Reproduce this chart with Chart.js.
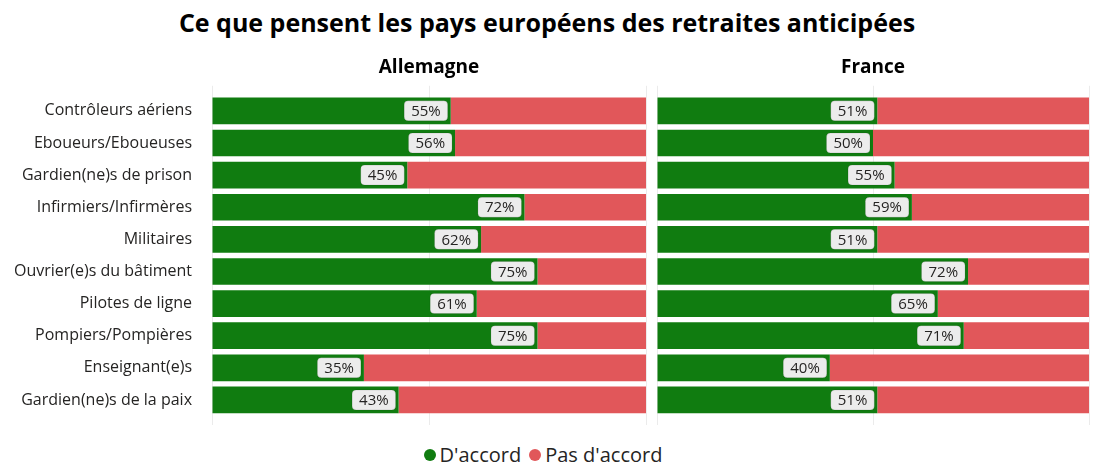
<!DOCTYPE html>
<html lang="fr">
<head>
  <meta charset="UTF-8">
  <title>Ce que pensent les pays européens des retraites anticipées</title>
  <script src="https://cdn.jsdelivr.net/npm/chart.js"></script>
  <style>
    html, body { margin: 0; padding: 0; background: #fff; }
    body { width: 1100px; height: 472px; position: relative; overflow: hidden; font-family: "Open Sans", sans-serif; color: #252423; }
    .title { position: absolute; left: 0; top: 4px; width: 1094px; text-align: center; font-size: 25px; font-weight: bold; line-height: 36px; color: #000; }
    .chart_box { position: absolute; top: 41px; height: 389px; }
    #left_box { left: 0; width: 650px; }
    #right_box { left: 652px; width: 448px; }
    .legend { position: absolute; left: 0; top: 440px; width: 1086px; display: flex; justify-content: center; align-items: center; font-size: 20px; line-height: 30px; color: #252423; }
    .legend span.dot { display: inline-block; width: 12px; height: 12px; border-radius: 50%; margin-right: 4px; }
    .legend .item { display: flex; align-items: center; margin: 0 4px; }
  </style>
</head>
<body>
  <div class="title">Ce que pensent les pays européens des retraites anticipées</div>
  <div class="chart_box" id="left_box"><canvas id="chartAllemagne"></canvas></div>
  <div class="chart_box" id="right_box"><canvas id="chartFrance"></canvas></div>
  <div class="legend">
    <div class="item"><span class="dot" style="background:#107c10"></span>D'accord</div>
    <div class="item"><span class="dot" style="background:#e1575a"></span>Pas d'accord</div>
  </div>

  <script>
    const categories = [
      'Contrôleurs aériens',
      'Eboueurs/Eboueuses',
      'Gardien(ne)s de prison',
      'Infirmiers/Infirmères',
      'Militaires',
      'Ouvrier(e)s du bâtiment',
      'Pilotes de ligne',
      'Pompiers/Pompières',
      'Enseignant(e)s',
      'Gardien(ne)s de la paix'
    ];
    const allemagneAccord = [55, 56, 45, 72, 62, 75, 61, 75, 35, 43];
    const allemagnePasAccord = [45, 44, 55, 28, 38, 25, 39, 25, 65, 57];
    const franceAccord = [51, 50, 55, 59, 51, 72, 65, 71, 40, 51];
    const francePasAccord = [49, 50, 45, 41, 49, 28, 35, 29, 60, 49];
    const seriesNames = ["D'accord", "Pas d'accord"];
    const xTicks = [0, 50, 100];

    const green = '#107c10';
    const red = '#e1575a';
    const gridColor = '#ebebeb';

    // etiquette arrondie au bout de la barre verte
    const valueLabels = {
      id: 'valueLabels',
      afterDatasetsDraw(chart) {
        const c = chart.ctx;
        const meta = chart.getDatasetMeta(0);
        c.save();
        c.font = '15px "Open Sans", sans-serif';
        c.textBaseline = 'middle';
        c.textAlign = 'center';
        meta.data.forEach((bar, i) => {
          const txt = chart.data.datasets[0].data[i] + '%';
          const w = c.measureText(txt).width + 14;
          const h = 20;
          const x = bar.x - 3 - w;
          const y = bar.y - h / 2;
          c.beginPath();
          c.roundRect(x, y, w, h, 4);
          c.fillStyle = '#ececec';
          c.fill();
          c.strokeStyle = 'rgba(0,0,0,0.12)';
          c.lineWidth = 1;
          c.stroke();
          c.fillStyle = '#252423';
          c.fillText(txt, x + w / 2, bar.y + 1);
        });
        c.restore();
      }
    };

    function makeChart(id, title, agree, disagree, showAxis, pad) {
      return new Chart(document.getElementById(id), {
        type: 'bar',
        data: {
          labels: categories,
          datasets: [
            { label: seriesNames[0], data: agree, backgroundColor: green, borderWidth: 0 },
            { label: seriesNames[1], data: disagree, backgroundColor: red, borderWidth: 0 }
          ]
        },
        options: {
          indexAxis: 'y',
          responsive: true,
          maintainAspectRatio: false,
          animation: false,
          barPercentage: 0.83,
          categoryPercentage: 1,
          layout: { padding: pad },
          scales: {
            x: {
              stacked: true,
              min: 0,
              max: 100,
              afterBuildTicks: s => { s.ticks = xTicks.map(v => ({ value: v })); },
              ticks: { display: false },
              grid: { color: gridColor, tickLength: 9 },
              border: { display: false }
            },
            x2: {
              position: 'top',
              min: 0,
              max: 100,
              afterBuildTicks: s => { s.ticks = xTicks.map(v => ({ value: v })); },
              ticks: { display: false },
              grid: { color: gridColor, tickLength: 9, drawOnChartArea: false },
              border: { display: false }
            },
            y: {
              stacked: true,
              display: showAxis,
              grid: { display: false },
              border: { display: false },
              afterFit: s => {
                if (showAxis) s.width = 212;
                s.paddingTop = 0;
                s.paddingBottom = 0;
              },
              ticks: {
                padding: 12,
                color: '#252423',
                font: { family: '"Open Sans", sans-serif', size: 16 }
              }
            }
          },
          plugins: {
            legend: { display: false },
            tooltip: { enabled: false },
            title: {
              display: true,
              text: title,
              fullSize: false,
              color: '#000',
              font: { family: '"Open Sans", sans-serif', size: 19, weight: 'bold' },
              padding: { top: 15, bottom: 7 }
            }
          }
        },
        plugins: [valueLabels]
      });
    }

    makeChart('chartAllemagne', 'Allemagne', allemagneAccord, allemagnePasAccord, true,
      { left: 0, right: 4, top: 0, bottom: 5 });
    makeChart('chartFrance', 'France', franceAccord, francePasAccord, false,
      { left: 5, right: 11, top: 0, bottom: 5 });
  </script>
</body>
</html>
